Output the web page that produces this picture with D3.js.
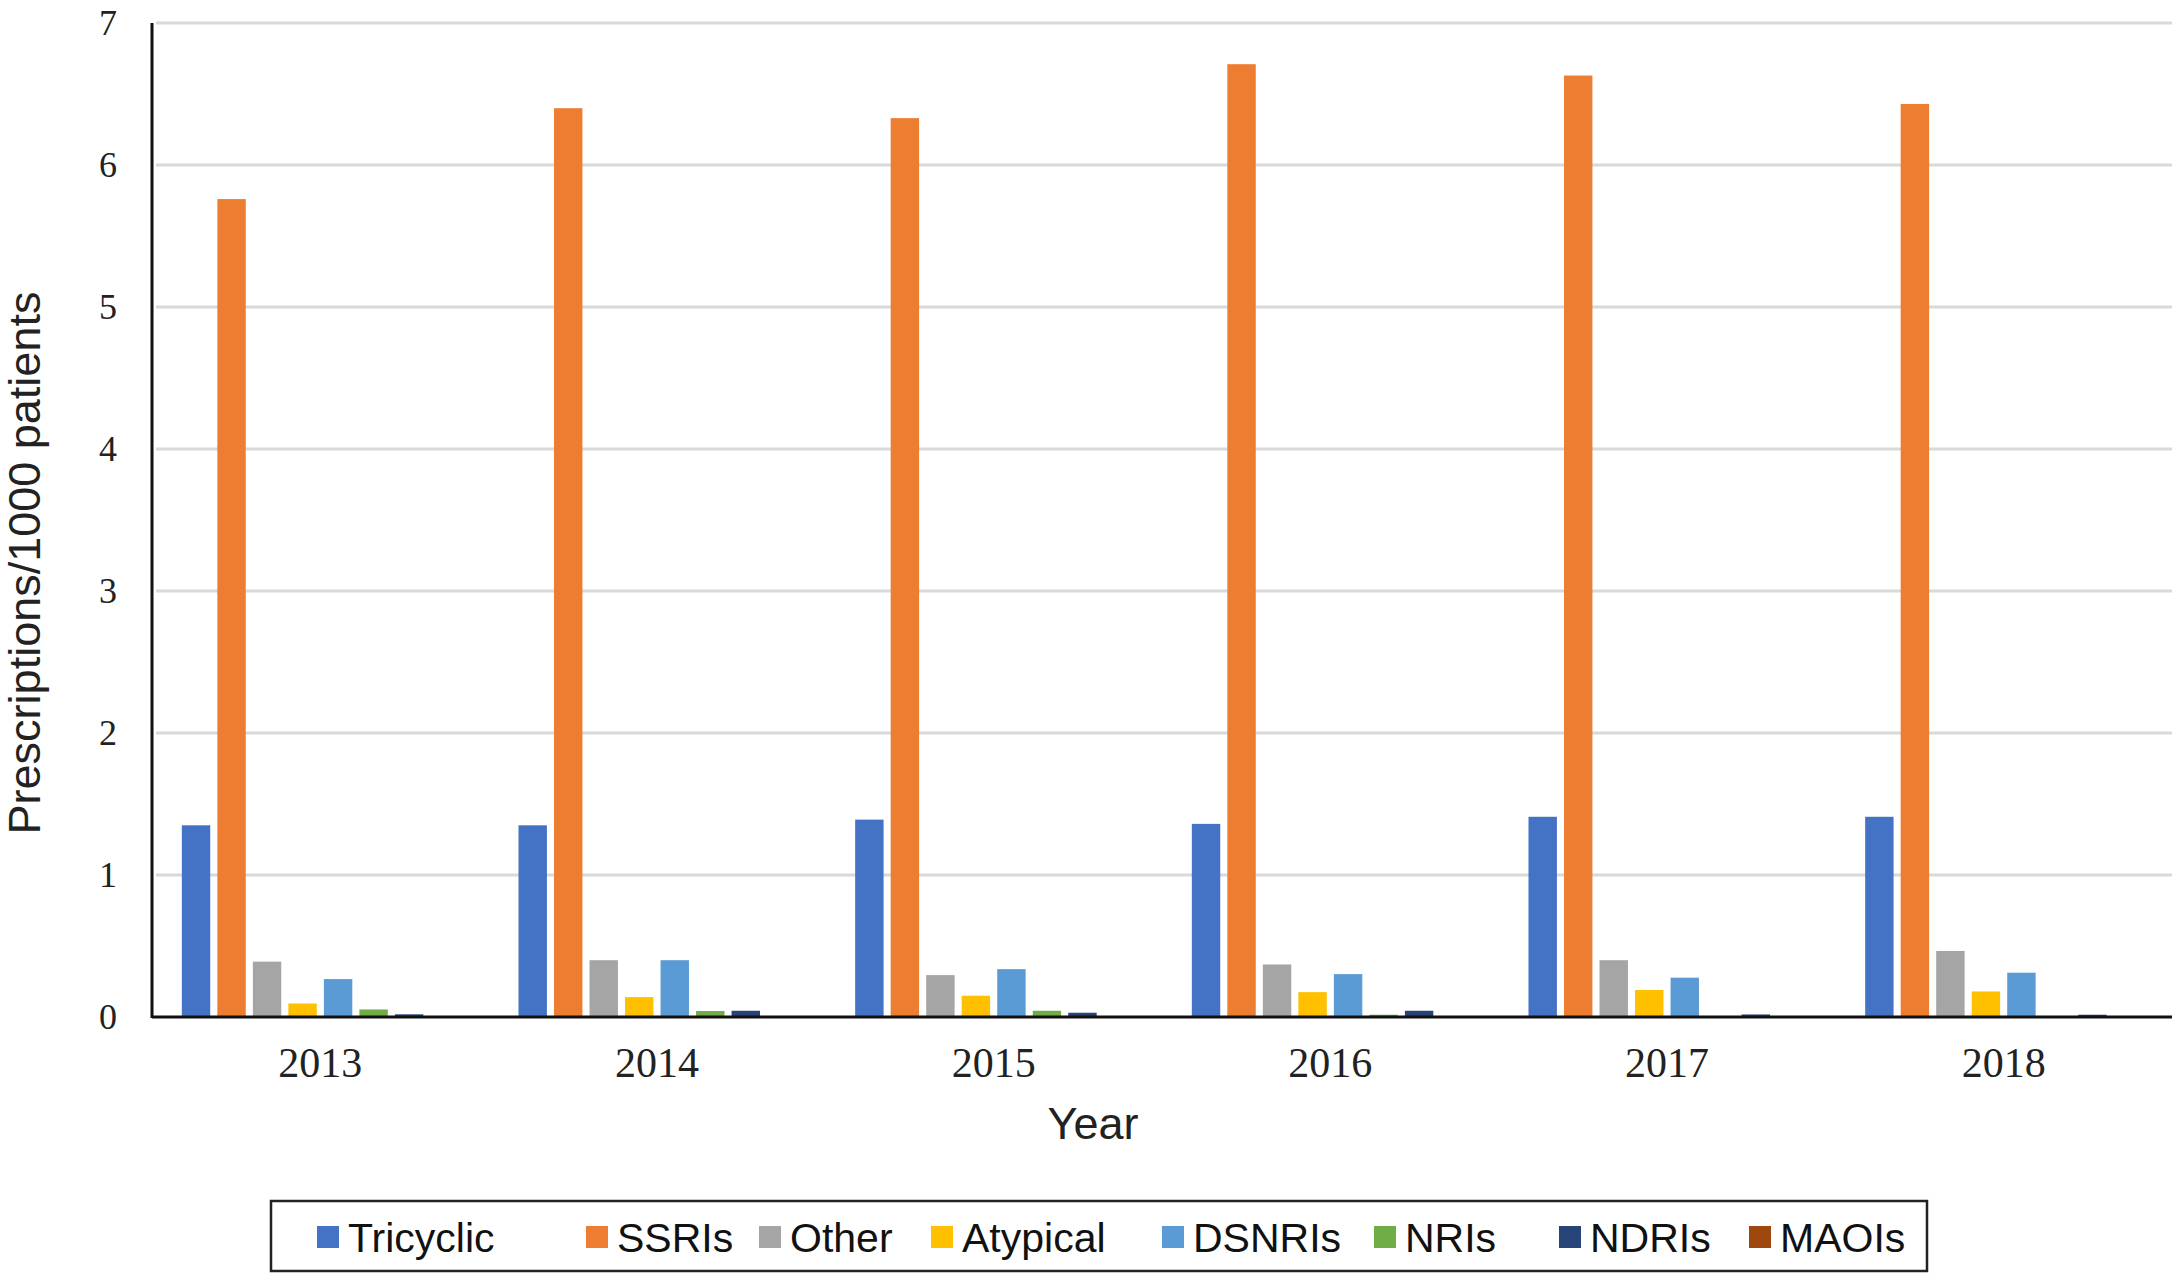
<!DOCTYPE html>
<html>
<head>
<meta charset="utf-8">
<script src="https://cdn.jsdelivr.net/npm/d3@7"></script>
<style>
	body { margin: 0; background: #fff; }
	svg { display: block; }
</style>
</head>
<body>
<div></div>
<script>
var width = 2183;
var height = 1280;

// data
var years = ["2013", "2014", "2015", "2016", "2017", "2018"];
var classes = ["Tricyclic", "SSRIs", "Other", "Atypical", "DSNRIs", "NRIs", "NDRIs", "MAOIs"];
var tricyclic = [1.35, 1.35, 1.39, 1.36, 1.41, 1.41];
var ssris     = [5.76, 6.40, 6.33, 6.71, 6.63, 6.43];
var other     = [0.39, 0.40, 0.295, 0.37, 0.40, 0.465];
var atypical  = [0.095, 0.14, 0.15, 0.175, 0.19, 0.18];
var dsnris    = [0.267, 0.40, 0.337, 0.302, 0.277, 0.312];
var nris      = [0.053, 0.042, 0.044, 0.016, 0, 0];
var ndris     = [0.019, 0.044, 0.03, 0.044, 0.018, 0.016];
var maois     = [0, 0, 0, 0, 0, 0];
var yTicks = [0, 1, 2, 3, 4, 5, 6, 7];

var series = [tricyclic, ssris, other, atypical, dsnris, nris, ndris, maois];
var colours = ["#4472C4", "#ED7D31", "#A5A5A5", "#FFC000", "#5B9BD5", "#70AD47", "#264478", "#9E480E"];

// legend layout (x of each swatch)
var legendX = [317, 586, 759, 931, 1162, 1374, 1559, 1749];

var plotLeft = 152, plotRight = 2172, plotTop = 23, plotBottom = 1017;

var svg = d3.select("div")
			.append("svg")
			.attr("width", width)
			.attr("height", height);

var x0 = d3.scaleBand()
			.domain(years)
			.range([plotLeft, plotRight])
			.padding(0);

var x1 = d3.scaleBand()
			.domain(classes)
			.range([0, x0.bandwidth()])
			.paddingInner(0.2)
			.paddingOuter(0.84);

var y = d3.scaleLinear()
			.domain([0, 7])
			.range([plotBottom, plotTop]);

// gridlines
svg.append("g")
	.selectAll("line")
	.data(yTicks.filter(function(d) { return d > 0; }))
	.enter().append("line")
	.attr("x1", plotLeft + 4)
	.attr("x2", plotRight)
	.attr("y1", function(d) { return y(d); })
	.attr("y2", function(d) { return y(d); })
	.attr("stroke", "#d9d9d9")
	.attr("stroke-width", 3);

// bars
var groups = svg.append("g")
	.selectAll("g")
	.data(years)
	.enter().append("g")
	.attr("transform", function(d) { return "translate(" + x0(d) + ",0)"; });

groups.selectAll("rect")
	.data(function(d, i) {
		return classes.map(function(c, j) { return {cls: c, value: series[j][i], colour: colours[j]}; });
	})
	.enter().append("rect")
	.attr("x", function(d) { return x1(d.cls); })
	.attr("width", x1.bandwidth())
	.attr("y", function(d) { return y(d.value); })
	.attr("height", function(d) { return y(0) - y(d.value); })
	.attr("fill", function(d) { return d.colour; });

// y axis (labels only, no ticks)
var yAxis = d3.axisLeft(y)
			.tickValues(yTicks)
			.tickSize(0)
			.tickPadding(0)
			.tickFormat(d3.format("d"));

svg.append("g")
	.attr("transform", "translate(117,0)")
	.call(yAxis)
	.call(function(g) { g.select(".domain").remove(); })
	.selectAll("text")
	.attr("font-family", "Liberation Serif, Times New Roman, serif")
	.attr("font-size", 36)
	.attr("fill", "#222");

// x axis labels
var xAxis = d3.axisBottom(x0)
			.tickSize(0)
			.tickPadding(0);

svg.append("g")
	.attr("transform", "translate(0,1047)")
	.call(xAxis)
	.call(function(g) { g.select(".domain").remove(); })
	.selectAll("text")
	.attr("dy", "0.71em")
	.attr("font-family", "Liberation Serif, Times New Roman, serif")
	.attr("font-size", 42)
	.attr("fill", "#222");

// axis lines
svg.append("line")
	.attr("x1", plotLeft).attr("x2", plotLeft)
	.attr("y1", plotTop).attr("y2", plotBottom + 1)
	.attr("stroke", "#111")
	.attr("stroke-width", 3);

svg.append("line")
	.attr("x1", plotLeft).attr("x2", plotRight)
	.attr("y1", plotBottom).attr("y2", plotBottom)
	.attr("stroke", "#111")
	.attr("stroke-width", 3);

// axis titles
svg.append("text")
	.attr("transform", "translate(40," + 563 + ") rotate(-90)")
	.attr("text-anchor", "middle")
	.attr("font-family", "Liberation Sans, Arial, sans-serif")
	.attr("font-size", 45)
	.attr("fill", "#222")
	.text("Prescriptions/1000 patients");

svg.append("text")
	.attr("x", 1093)
	.attr("y", 1139)
	.attr("text-anchor", "middle")
	.attr("font-family", "Liberation Sans, Arial, sans-serif")
	.attr("font-size", 45)
	.attr("fill", "#222")
	.text("Year");

// legend
var legend = svg.append("g");

legend.append("rect")
	.attr("x", 271)
	.attr("y", 1201)
	.attr("width", 1656)
	.attr("height", 70)
	.attr("fill", "#fff")
	.attr("stroke", "#222")
	.attr("stroke-width", 2.5);

var items = legend.selectAll("g.item")
	.data(classes)
	.enter().append("g")
	.attr("class", "item")
	.attr("transform", function(d, i) { return "translate(" + legendX[i] + ",0)"; });

items.append("rect")
	.attr("x", 0)
	.attr("y", 1226)
	.attr("width", 22)
	.attr("height", 22)
	.attr("fill", function(d, i) { return colours[i]; });

items.append("text")
	.attr("x", 31)
	.attr("y", 1252)
	.attr("font-family", "Liberation Sans, Arial, sans-serif")
	.attr("font-size", 41)
	.attr("fill", "#111")
	.text(function(d) { return d; });
</script>
</body>
</html>
